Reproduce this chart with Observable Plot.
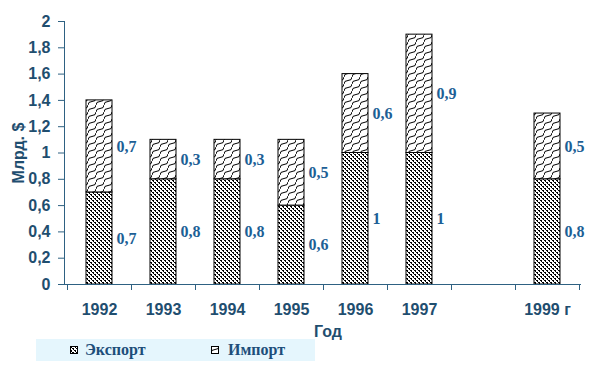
<!DOCTYPE html>
<html><head><meta charset="utf-8">
<script src="https://cdn.jsdelivr.net/npm/d3@7"></script>
<script src="https://cdn.jsdelivr.net/npm/@observablehq/plot@0.6"></script>
<style>
body{margin:0;background:#fff}
#wrap{position:relative;width:589px;height:367px;overflow:hidden}
#chart{position:absolute;left:0;top:0}
#legend{position:absolute;left:36px;top:339px;width:279px;height:22px;background:#e5f6fd;
 font-family:"Liberation Serif","Times New Roman",serif;font-weight:bold;font-size:16px;color:#1d4e7a}
.sw{position:absolute;top:7px;width:8px;height:8px}
.lt{position:absolute;top:1px;line-height:20px;white-space:nowrap}
</style>
</head><body>
<svg width="0" height="0" style="position:absolute">
<defs>
<pattern id="dots" width="4" height="4" patternUnits="userSpaceOnUse">
<rect width="4" height="4" fill="#fff"/>
<rect x="0" y="0" width="2" height="1" fill="#000"/>
<rect x="2" y="2" width="2" height="1" fill="#000"/>
<rect x="1" y="1" width="1" height="1" fill="#000"/>
<rect x="3" y="3" width="1" height="1" fill="#000"/>
</pattern>
<pattern id="scales" width="8" height="7" patternUnits="userSpaceOnUse">
<rect width="8" height="7" fill="#fff"/>
<path d="M0,7 Q0,3.5 4,3.5 Q8,3.5 8,0" fill="none" stroke="#000" stroke-width="1"/>
</pattern>
</defs>
</svg>
<div id="wrap">
<div id="chart"></div>
<div id="legend"></div>
</div>
<script>
const years = ["1992", "1993", "1994", "1995", "1996", "1997", " ", "1999 г"];
const exportVals = [0.7, 0.8, 0.8, 0.6, 1, 1, null, 0.8];
const importVals = [0.7, 0.3, 0.3, 0.5, 0.6, 0.9, null, 0.5];
const yTicks = [0, 0.2, 0.4, 0.6, 0.8, 1, 1.2, 1.4, 1.6, 1.8, 2];
const series = ["Экспорт", "Импорт"];
const patterns = ["url(#dots)", "url(#scales)"];
const yLabel = "Млрд. $";
const xLabel = "Год";

const rows = [];
years.forEach((yr, i) => {
  if (exportVals[i] != null) {
    rows.push({year: yr, series: series[0], value: exportVals[i]});
    rows.push({year: yr, series: series[1], value: importVals[i]});
  }
});

const fmt = v => String(v).replace(".", ",");
const axisColor = "#2e6182";

const boundaryTicks = (index, scales, values, dims) => {
  const x = scales.x, y = scales.y;
  const g = d3.create("svg:g").attr("stroke", axisColor).attr("stroke-width", 1);
  const step = x.step(), bw = x.bandwidth();
  const gap = (step - bw) / 2;
  const y0 = y(0);
  const xs = years.map(d => x(d) - gap);
  xs.push(x(years[years.length - 1]) + bw + gap);
  for (const px of xs) {
    g.append("line").attr("x1", Math.round(px) + 0.5).attr("x2", Math.round(px) + 0.5)
      .attr("y1", y0).attr("y2", y0 + 6);
  }
  g.append("line").attr("x1", dims.marginLeft + 0.5).attr("x2", dims.marginLeft + 0.5)
    .attr("y1", y(0)).attr("y2", y(2));
  return g.node();
};

const chart = Plot.plot({
  width: 589, height: 367,
  marginTop: 21, marginBottom: 83, marginLeft: 64, marginRight: 8,
  style: {fontFamily: "'Liberation Sans', Arial, sans-serif", fontWeight: "bold", fontSize: "16px", color: "#1f4e6f", background: "transparent"},
  x: {domain: years, paddingInner: 0.6, paddingOuter: 0.3, label: null},
  y: {domain: [0, 2], label: null},
  color: {type: "identity"},
  marks: [
    Plot.barY(rows, Plot.stackY({x: "year", y: "value", fill: d => patterns[series.indexOf(d.series)], stroke: "#000", strokeWidth: 1})),
    Plot.text(rows, Plot.stackY({x: "year", y: "value", text: d => fmt(d.value), textAnchor: "start", dx: 17,
      fontFamily: "'Liberation Serif', 'Times New Roman', serif", fontSize: 16, fontWeight: "bold", fill: "#1d5f96"})),
    Plot.ruleY([0], {stroke: axisColor}),
    Plot.axisY({ticks: yTicks, tickFormat: fmt, tickSize: 6, tickPadding: 8, stroke: axisColor,
      label: yLabel, labelAnchor: "center", labelOffset: 52, labelArrow: "none"}),
    Plot.axisX({tickSize: 0, tickPadding: 19, label: null}),
    boundaryTicks,
    Plot.text([xLabel], {frameAnchor: "bottom", lineAnchor: "middle", dy: 47, dx: 5, text: d => d})
  ]
});
document.getElementById("chart").appendChild(chart);

const legend = document.getElementById("legend");
const legendPos = [[34, 49], [175, 192]];
series.forEach((s, i) => {
  const sw = document.createElementNS("http://www.w3.org/2000/svg", "svg");
  sw.setAttribute("class", "sw");
  sw.setAttribute("width", 8); sw.setAttribute("height", 8);
  sw.style.left = legendPos[i][0] + "px";
  sw.innerHTML = `<rect x="0.5" y="0.5" width="7" height="7" fill="${patterns[i]}" stroke="#000"/>`;
  legend.appendChild(sw);
  const t = document.createElement("span");
  t.className = "lt";
  t.style.left = legendPos[i][1] + "px";
  t.textContent = s;
  legend.appendChild(t);
});
</script>
</body></html>
